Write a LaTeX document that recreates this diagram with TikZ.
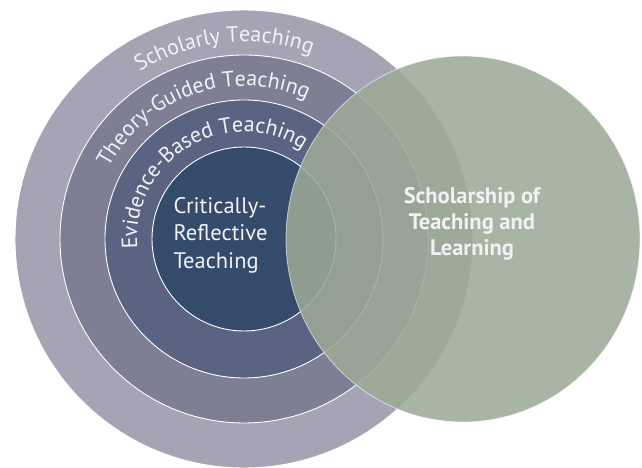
\documentclass[tikz,border=0pt]{standalone}
\usepackage{fontspec}
\setmainfont{PT Sans}
\usepackage{tikz}
\usetikzlibrary{positioning, decorations.text, shapes.geometric}

\definecolor{scholfill}{HTML}{A6A4B4}
\definecolor{theoryfill}{HTML}{7E7F95}
\definecolor{evidfill}{HTML}{5B6382}
\definecolor{critfill}{HTML}{354B6C}
\definecolor{sotlfill}{HTML}{9CAA96}
\definecolor{ringwhite}{HTML}{F2F2F5}

\begin{document}
\begin{tikzpicture}[x=1pt, y=1pt,
		ring/.style={circle, draw=white, line width=0.9pt, inner sep=0pt},
		ringtext/.style={decorate, decoration={text along path, text align=center, text color=ringwhite}},
		midtext/.style={text=ringwhite, align=left, font=\fontsize{22.5}{27.5}\selectfont},
		sotltext/.style={text=ringwhite, align=center, font=\fontsize{22.5}{26}\selectfont\bfseries}]
		\useasboundingbox (0,0) rectangle (642,468);
		
		\coordinate (c) at (244,229);
		
		\node[ring, fill=scholfill, minimum size=458pt] (schol) at (c) {};
		\node[ring, fill=theoryfill, minimum size=368pt] (theory) at (c) {};
		\node[ring, fill=evidfill, minimum size=278pt] (evid) at (c) {};
		\node[ring, fill=critfill, minimum size=184pt] (crit) at (c) {};
		
		\path[ringtext, decoration={text={|\fontsize{22}{22}\selectfont|Scholarly Teaching}}]
			([shift={(156:197)}]c) arc[start angle=156, end angle=36, radius=197];
		\path[ringtext, decoration={text={|\fontsize{22}{22}\selectfont|Theory-Guided Teaching}}]
			([shift={(179:153)}]c) arc[start angle=179, end angle=39, radius=153];
		\path[ringtext, decoration={text={|\fontsize{22}{22}\selectfont|Evidence-Based Teaching}}]
			([shift={(201:107)}]c) arc[start angle=201, end angle=41, radius=107];
		
		\node[midtext] (critlabel) at (220.5,233) {Critically-\\Reflective\\Teaching};
		
		\node[ellipse, fill=sotlfill, fill opacity=0.87, draw=white, draw opacity=0.6, line width=0.8pt,
			minimum width=354pt, minimum height=366pt, inner sep=0pt] (sotl) at (463,229) {};
		\node[sotltext] (sotllabel) at (472,244) {Scholarship of\\Teaching and\\Learning};
		
	\end{tikzpicture}
\end{document}
